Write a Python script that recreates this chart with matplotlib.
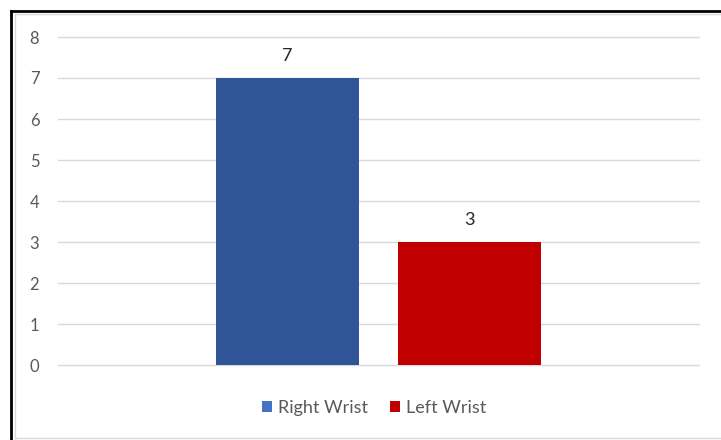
#
# Wrist bar chart
#

import matplotlib
matplotlib.use("Agg")
import matplotlib.pyplot as plt
from matplotlib.patches import Patch
from matplotlib.lines import Line2D

# Data
series = ["Right Wrist", "Left Wrist"]
values = [7, 3]
bar_colors = ["#2F5597", "#C00000"]
legend_colors = ["#4472C4", "#C00000"]
y_ticks = [0, 1, 2, 3, 4, 5, 6, 7, 8]

plt.rcParams["font.family"] = ["Lato", "DejaVu Sans"]

W, H = 721, 440
fig = plt.figure(figsize=(W / 100, H / 100), dpi=100)
fig.patch.set_facecolor("white")

ax = fig.add_axes([58 / W, (H - 365) / H, (699 - 58) / W, (365 - 37) / H])

# Bars of one category, side by side
bar_w = 0.223
offsets = [-0.142, 0.142]
for off, v, c in zip(offsets, values, bar_colors):
    ax.bar(off, v, width=bar_w, color=c, zorder=3)
    ax.annotate(str(v), (off, v), xytext=(0, 10), textcoords="offset points",
                ha="center", va="bottom", fontsize=13, color="#262626")

ax.set_xlim(-0.5, 0.5)
ax.set_ylim(0, 8)
ax.set_yticks(y_ticks)
ax.set_xticks([])
ax.tick_params(axis="y", length=0, pad=13.5, labelsize=12, labelcolor="#595959")
ax.grid(axis="y", color="#D9D9D9", linewidth=1, zorder=0)
for gl in ax.get_ygridlines():
    gl.set_clip_on(False)
for s in ax.spines.values():
    s.set_visible(False)

# Legend
handles = [Patch(facecolor=c, edgecolor="none") for c in legend_colors]
fig.legend(handles, series, loc="center", bbox_to_anchor=(374 / W, 1 - 408 / H),
           ncol=2, frameon=False, fontsize=13, labelcolor="#595959",
           handlelength=0.56, handleheight=0.6, handletextpad=0.35,
           columnspacing=1.2)

# Chart borders
def px_line(x0, y0, x1, y1, color, lw):
    fig.add_artist(Line2D([x0 / W, x1 / W], [1 - y0 / H, 1 - y1 / H],
                          transform=fig.transFigure, color=color, linewidth=lw))

px_line(11, 11, 11, 440, "black", 2)
px_line(11, 11, 721, 11, "black", 2)
px_line(15, 14, 15, 438, "#D9D9D9", 1)
px_line(15, 14, 721, 14, "#D9D9D9", 1)
px_line(15, 438, 721, 438, "#D9D9D9", 1)

plt.savefig("out.png", dpi=100)
